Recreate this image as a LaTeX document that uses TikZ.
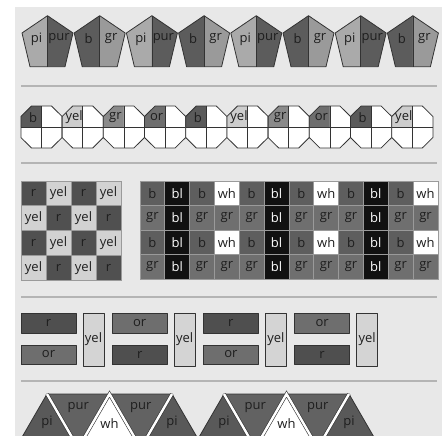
\documentclass[tikz,border=0pt]{standalone}
\usepackage{fontspec}
\setmainfont{Open Sans}
\definecolor{bgc}{HTML}{E8E8E8}
\definecolor{sepc}{HTML}{B4B4B4}
\definecolor{edgec}{HTML}{333333}
\definecolor{txtc}{HTML}{1E1E1E}
\definecolor{pic}{HTML}{AAAAAA}
\definecolor{purc}{HTML}{5C5C5C}
\definecolor{bc}{HTML}{5C5C5C}
\definecolor{grc}{HTML}{9A9A9A}
\definecolor{ob}{HTML}{5A5A5A}
\definecolor{oyel}{HTML}{CDCDCD}
\definecolor{ogr}{HTML}{8A8A8A}
\definecolor{oor}{HTML}{6E6E6E}
\definecolor{cr}{HTML}{505050}
\definecolor{cyel}{HTML}{D2D2D2}
\definecolor{gb}{HTML}{5E5E5E}
\definecolor{gbl}{HTML}{111111}
\definecolor{gwh}{HTML}{FFFFFF}
\definecolor{ggr}{HTML}{6F6F6F}
\definecolor{cellline}{HTML}{9A9A9A}
\definecolor{brr}{HTML}{4F4F4F}
\definecolor{bor}{HTML}{6E6E6E}
\definecolor{byel}{HTML}{D4D4D4}
\definecolor{tpi}{HTML}{595959}
\definecolor{tpur}{HTML}{626262}
\begin{document}
\begin{tikzpicture}[x=1pt,y=-1pt,
  lbl/.style={inner sep=0pt,text=txtc,font=\fontsize{13}{14}\selectfont},
  edge/.style={draw=edgec,line width=0.8pt,line join=round},
  cell/.style={draw=cellline,line width=0.8pt},
  sep/.style={draw=sepc,line width=1.4pt}]
\useasboundingbox (0,0) rectangle (442,436);
\clip (0,0) rectangle (442,436);
\fill[bgc] (15,7) rectangle (442,436);
% separators
\foreach \y in {86,163,297,381} \draw[sep] (21,\y) -- (437,\y);
% row 1: pentagons
\foreach \i/\lc/\ll/\rc/\rl in {0/pic/pi/purc/pur,1/bc/b/grc/gr,2/pic/pi/purc/pur,3/bc/b/grc/gr,4/pic/pi/purc/pur,5/bc/b/grc/gr,6/pic/pi/purc/pur,7/bc/b/grc/gr}{
  \pgfmathsetmacro\cx{47.5+52.2*\i}
  \fill[\lc] (\cx,15.7) -- (\cx-25.5,33) -- (\cx-17.5,66.7) -- (\cx,66.7) -- cycle;
  \fill[\rc] (\cx,15.7) -- (\cx+25.5,33) -- (\cx+17.5,66.7) -- (\cx,66.7) -- cycle;
  \draw[edge] (\cx,15.7) -- (\cx-25.5,33) -- (\cx-17.5,66.7) -- (\cx+17.5,66.7) -- (\cx+25.5,33) -- cycle;
  \draw[edge] (\cx,15.7) -- (\cx,66.7);
  \node[lbl] (pl\i) at (\cx-11,39) {\ll};
  \node[lbl] (pr\i) at (\cx+11.5,39) {\rl};
}
% row 2: octagons
\foreach \i/\c/\l in {0/ob/b,1/oyel/yel,2/ogr/gr,3/oor/or,4/ob/b,5/oyel/yel,6/ogr/gr,7/oor/or,8/ob/b,9/oyel/yel}{
  \pgfmathsetmacro\cx{41.5+41.2*\i}
  \def\cy{127}
  \fill[\c] (\cx,\cy) -- (\cx-20.6,\cy) -- (\cx-20.6,\cy-10.5) -- (\cx-10,\cy-21) -- (\cx,\cy-21) -- cycle;
  \fill[white] (\cx,\cy) -- (\cx,\cy-21) -- (\cx+10,\cy-21) -- (\cx+20.6,\cy-10.5) -- (\cx+20.6,\cy+10.5) -- (\cx+10,\cy+21) -- (\cx-10,\cy+21) -- (\cx-20.6,\cy+10.5) -- (\cx-20.6,\cy) -- cycle;
  \draw[edge] (\cx-10,\cy-21) -- (\cx+10,\cy-21) -- (\cx+20.6,\cy-10.5) -- (\cx+20.6,\cy+10.5) -- (\cx+10,\cy+21) -- (\cx-10,\cy+21) -- (\cx-20.6,\cy+10.5) -- (\cx-20.6,\cy-10.5) -- cycle;
  \draw[edge] (\cx-20.6,\cy) -- (\cx+20.6,\cy) (\cx,\cy-21) -- (\cx,\cy+21);
  \node[lbl] (o\i) at (\cx-8.5,\cy-9.5) {\l};
}
% row 3 left: checkerboard
\foreach \r in {0,...,3}{
  \foreach \c in {0,...,3}{
    \pgfmathtruncatemacro\pp{mod(\r+\c,2)}
    \pgfmathsetmacro\xx{21+25*\c}
    \pgfmathsetmacro\yy{181+24.75*\r}
    \ifnum\pp=0
      \draw[cell,fill=cr] (\xx,\yy) rectangle ++(25,24.75);
      \node[lbl] (ck\r\c) at (\xx+12.5,\yy+12.4) {r};
    \else
      \draw[cell,fill=cyel] (\xx,\yy) rectangle ++(25,24.75);
      \node[lbl] (ck\r\c) at (\xx+12.5,\yy+12.4) {yel};
    \fi
  }
}
% row 3 right: grid
\foreach \r in {0,...,3}{
  \foreach \c in {0,...,11}{
    \pgfmathtruncatemacro\rp{mod(\r,2)}
    \pgfmathtruncatemacro\cp{mod(\c,4)}
    \pgfmathsetmacro\xx{140+24.83*\c}
    \pgfmathsetmacro\yy{181+24.5*\r}
    \ifnum\cp=1
      \draw[cell,fill=gbl] (\xx,\yy) rectangle ++(24.83,24.5);
      \node[lbl,text=white] (g\r-\c) at (\xx+12.4,\yy+12.2) {bl};
    \else
      \ifnum\rp=1
        \draw[cell,fill=ggr] (\xx,\yy) rectangle ++(24.83,24.5);
        \node[lbl] (g\r-\c) at (\xx+12.4,\yy+12.2) {gr};
      \else
        \ifnum\cp=3
          \draw[cell,fill=gwh] (\xx,\yy) rectangle ++(24.83,24.5);
          \node[lbl] (g\r-\c) at (\xx+12.4,\yy+12.2) {wh};
        \else
          \draw[cell,fill=gb] (\xx,\yy) rectangle ++(24.83,24.5);
          \node[lbl] (g\r-\c) at (\xx+12.4,\yy+12.2) {b};
        \fi
      \fi
    \fi
  }
}
% row 4: bricks
\foreach \i/\tc/\tl/\bcl/\bl in {0/brr/r/bor/or,1/bor/or/brr/r,2/brr/r/bor/or,3/bor/or/brr/r}{
  \pgfmathsetmacro\xx{21+91.2*\i}
  \draw[edge,fill=\tc] (\xx,313) rectangle ++(55,20);
  \node[lbl] (bt\i) at (\xx+27.5,323) {\tl};
  \draw[edge,fill=\bcl] (\xx,345) rectangle ++(55,19.5);
  \node[lbl] (bb\i) at (\xx+27.5,354.5) {\bl};
  \draw[edge,fill=byel] (\xx+62,313) rectangle ++(21,53);
  \node[lbl] (by\i) at (\xx+72.5,339.5) {yel};
}
% row 5: triangles
\foreach \g in {0,1}{
  \pgfmathsetmacro\X{47+177*\g}
  \pgfmathsetmacro\s{62.5}
  \coordinate (a0\g) at (\X,394);
  \coordinate (a1\g) at (\X+\s,394);
  \coordinate (a2\g) at (\X+2*\s,394);
  \coordinate (b0\g) at (\X-0.5*\s,448);
  \coordinate (b1\g) at (\X+0.5*\s,448);
  \coordinate (b2\g) at (\X+1.5*\s,448);
  \coordinate (b3\g) at (\X+2.5*\s,448);
  \draw[edge,fill=tpi] (a0\g) -- (b0\g) -- (b1\g) -- cycle;
  \draw[edge,fill=tpur] (a0\g) -- (a1\g) -- (b1\g) -- cycle;
  \draw[edge,fill=white] (a1\g) -- (b1\g) -- (b2\g) -- cycle;
  \draw[edge,fill=tpur] (a1\g) -- (a2\g) -- (b2\g) -- cycle;
  \draw[edge,fill=tpi] (a2\g) -- (b2\g) -- (b3\g) -- cycle;
  \draw[draw=edgec,line width=0.6pt,double=white,double distance=2.4pt,line join=miter]
     (a0\g) -- (b1\g) -- (a1\g) -- (b2\g) -- (a2\g);
  \node[lbl] (tp1\g) at (\X,422) {pi};
  \node[lbl] (tu1\g) at (\X+0.5*\s,408) {pur};
  \node[lbl] (tw\g) at (\X+\s,424) {wh};
  \node[lbl] (tu2\g) at (\X+1.5*\s,408) {pur};
  \node[lbl] (tp2\g) at (\X+2*\s,422) {pi};
}
\end{tikzpicture}
\end{document}
